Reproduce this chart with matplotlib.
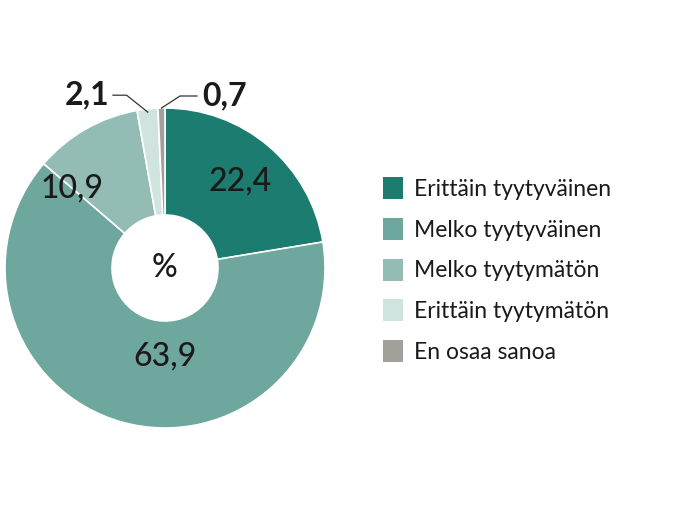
import numpy as np
import matplotlib
matplotlib.use("Agg")
import matplotlib.pyplot as plt
from matplotlib.patches import Patch

categories = ["Erittäin tyytyväinen", "Melko tyytyväinen", "Melko tyytymätön",
              "Erittäin tyytymätön", "En osaa sanoa"]
values = [22.4, 63.9, 10.9, 2.1, 0.7]
labels = ["22,4", "63,9", "10,9", "2,1", "0,7"]
colors = ["#1b7c6f", "#6ea79d", "#93bcb4", "#d0e4df", "#a39f9b"]

plt.rcParams['font.family'] = ['Lato', 'DejaVu Sans']
W, H = 700, 519
fig = plt.figure(figsize=(7, 5.19), dpi=100)
R = 160
cx, cy = 165, 268
lim = 1.1
side = 2 * lim * R
ax = fig.add_axes([(cx - side / 2) / W, (H - cy - side / 2) / H, side / W, side / H])

inner = 53 / 160
wedges, _ = ax.pie(values, colors=colors, startangle=90, counterclock=False,
                   radius=1, wedgeprops=dict(width=1 - inner, edgecolor='white', linewidth=1.2))
ax.set_xlim(-lim, lim)
ax.set_ylim(-lim, lim)
ax.set_aspect('equal')
ax.axis('off')

txtc = "#1a1a1a"
fs = 23
# inside labels
ax.text(0.47, 0.54, labels[0], ha='center', va='center', fontsize=fs, color=txtc, fontweight='medium')
ax.text(0.0, -0.55, labels[1], ha='center', va='center', fontsize=fs, color=txtc, fontweight='medium')
ax.text(-0.58, 0.50, labels[2], ha='center', va='center', fontsize=fs, color=txtc, fontweight='medium')

# outside labels with leader lines
def mid_angle(w):
    return np.deg2rad((w.theta1 + w.theta2) / 2)

a3 = mid_angle(wedges[3])
p3 = (0.98 * np.cos(a3), 0.98 * np.sin(a3))
ax.plot([p3[0], -0.24, -0.325], [p3[1], 1.08, 1.08], color='#333333', lw=0.9, clip_on=False)
ax.text(-0.35, 1.08, labels[3], ha='right', va='center', fontsize=fs, color=txtc, fontweight='bold')

a4 = mid_angle(wedges[4])
p4 = (1.0 * np.cos(a4), 1.0 * np.sin(a4))
ax.plot([p4[0], 0.094, 0.20], [p4[1], 1.075, 1.075], color='#333333', lw=0.9, clip_on=False)
ax.text(0.235, 1.075, labels[4], ha='left', va='center', fontsize=fs, color=txtc, fontweight='bold')

ax.text(0, 0, "%", ha='center', va='center', fontsize=fs, color=txtc, fontweight='medium')

handles = [Patch(facecolor=c, edgecolor='none') for c in colors]
fig.legend(handles, categories, loc='center left', bbox_to_anchor=(362 / W, 1 - 270 / H),
           frameon=False, fontsize=16.5, handlelength=0.9, handleheight=1.1,
           labelspacing=0.78, handletextpad=0.45, labelcolor=txtc)

fig.savefig("out.png", dpi=100, facecolor='white')
